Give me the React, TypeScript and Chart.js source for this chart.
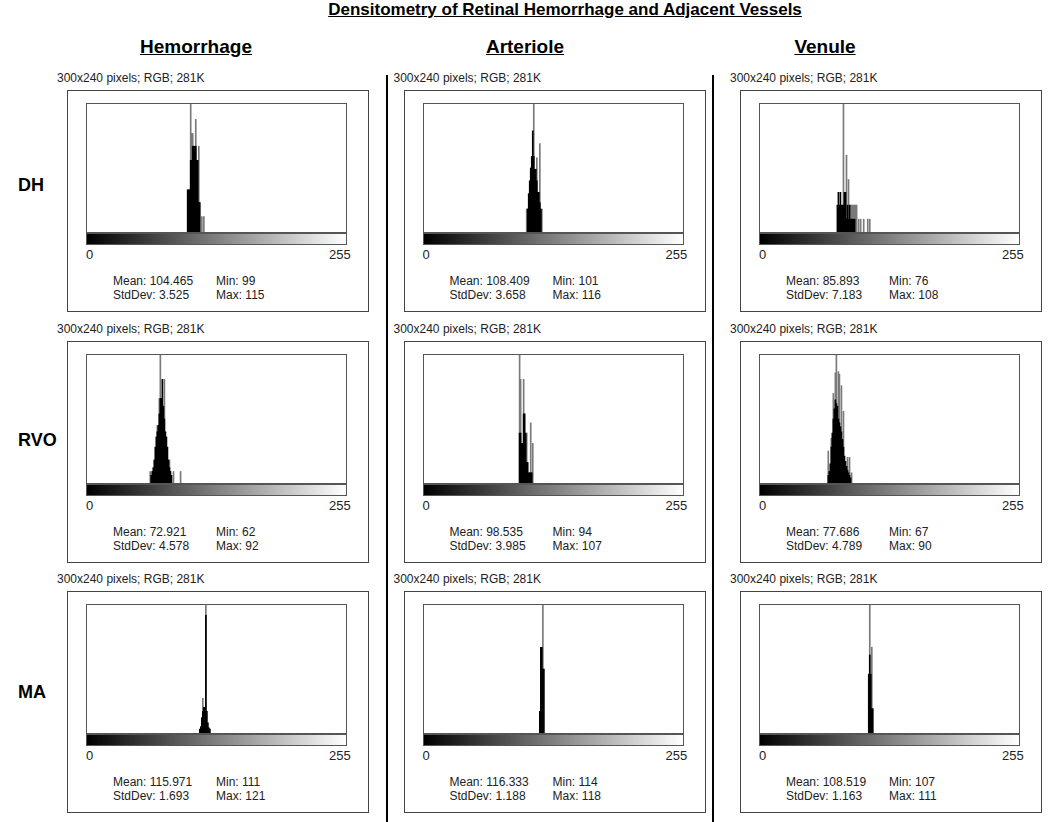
import React, { useEffect, useRef } from "react";
import { Chart, registerables } from "chart.js";

Chart.register(...registerables);

const TITLE = "Densitometry of Retinal Hemorrhage and Adjacent Vessels";
const columnNames = ["Hemorrhage", "Arteriole", "Venule"];
const rowNames = ["DH", "RVO", "MA"];
const imageInfo = "300x240 pixels; RGB; 281K";
const axisMinLabel = "0";
const axisMaxLabel = "255";

// Histogram bins (0-255), heights in % of plot height; black = solid body, gray = thin spikes
const dhHemStart = 99;
const dhHemBlack = [33, 33, 33, 56, 56, 67, 67, 67, 67, 56, 56, 23, 23, 0, 0, 0, 0];
const dhHemGray = [0, 0, 0, 100, 77, 77, 0, 0, 88, 0, 0, 67, 0, 0, 12, 0, 12];

const dhArtStart = 101;
const dhArtBlack = [0, 18, 30, 40, 50, 59, 79, 59, 49, 49, 40, 31, 31, 23, 18, 0];
const dhArtGray = [18, 0, 0, 0, 0, 0, 0, 100, 0, 0, 58, 0, 0, 69, 0, 18];

const dhVenStart = 76;
const dhVenBlack = [21, 31, 21, 31, 21, 21, 21, 31, 31, 10, 21, 10, 21, 10, 10, 10, 10, 10, 0, 0, 0, 0, 0, 0, 0, 0, 0, 0, 0, 0, 0, 0, 0];
const dhVenGray = [0, 0, 0, 0, 0, 0, 100, 0, 0, 60, 0, 41, 0, 21, 21, 21, 21, 21, 21, 21, 0, 10, 0, 10, 0, 0, 10, 0, 0, 0, 10, 0, 10];

const rvoHemStart = 62;
const rvoHemBlack = [0, 6, 9, 12, 18, 28, 36, 40, 45, 54, 66, 66, 81, 60, 50, 40, 36, 28, 18, 12, 9, 6, 0, 0, 0, 0, 0, 0, 0, 0, 0];
const rvoHemGray = [9, 0, 0, 0, 0, 0, 0, 45, 0, 66, 100, 0, 0, 0, 81, 0, 0, 0, 0, 18, 0, 0, 0, 9, 0, 0, 0, 0, 0, 0, 9];

const rvoArtStart = 94;
const rvoArtBlack = [39, 39, 31, 31, 54, 54, 39, 16, 16, 8, 8, 8, 8, 0];
const rvoArtGray = [100, 81, 0, 0, 81, 0, 0, 39, 0, 0, 0, 47, 0, 31];

const rvoVenStart = 67;
const rvoVenBlack = [6, 9, 15, 28, 39, 50, 58, 65, 62, 60, 50, 47, 44, 40, 34, 28, 21, 17, 13, 10, 8, 6, 4, 0];
const rvoVenGray = [25, 0, 0, 35, 0, 70, 0, 86, 100, 0, 87, 85, 0, 76, 0, 56, 0, 0, 0, 20, 0, 20, 0, 8];

const maHemStart = 111;
const maHemBlack = [3, 5, 12, 17, 20, 20, 92, 17, 8, 4, 3];
const maHemGray = [0, 0, 0, 27, 0, 0, 100, 0, 0, 0, 0];

const maArtStart = 114;
const maArtBlack = [17, 67, 67, 50, 50];
const maArtGray = [0, 0, 0, 100, 0];

const maVenStart = 107;
const maVenBlack = [46, 61, 46, 19, 19];
const maVenGray = [0, 100, 0, 67, 0];

const means = ["104.465", "108.409", "85.893", "72.921", "98.535", "77.686", "115.971", "116.333", "108.519"];
const stdDevs = ["3.525", "3.658", "7.183", "4.578", "3.985", "4.789", "1.693", "1.188", "1.163"];
const mins = ["99", "101", "76", "62", "94", "67", "111", "114", "107"];
const maxs = ["115", "116", "108", "92", "107", "90", "121", "118", "111"];

const panelStarts = [dhHemStart, dhArtStart, dhVenStart, rvoHemStart, rvoArtStart, rvoVenStart, maHemStart, maArtStart, maVenStart];
const panelBlack = [dhHemBlack, dhArtBlack, dhVenBlack, rvoHemBlack, rvoArtBlack, rvoVenBlack, maHemBlack, maArtBlack, maVenBlack];
const panelGray = [dhHemGray, dhArtGray, dhVenGray, rvoHemGray, rvoArtGray, rvoVenGray, maHemGray, maArtGray, maVenGray];

const PLOT_W = 259;
const PLOT_H = 128;

function Histogram({ start, black, gray }: { start: number; black: number[]; gray: number[] }) {
  const ref = useRef<HTMLCanvasElement>(null);
  useEffect(() => {
    const toPts = (arr: number[]) =>
      arr.map((v, i) => ({ x: start + i + 0.5, y: v })).filter((p) => p.y > 0);
    const chart = new Chart(ref.current as HTMLCanvasElement, {
      type: "bar",
      data: {
        datasets: [
          { data: toPts(black) as any, backgroundColor: "#000000", order: 1 },
          { data: toPts(gray) as any, backgroundColor: "#7a7a7a", order: 2 },
        ],
      },
      options: {
        animation: false,
        responsive: false,
        maintainAspectRatio: false,
        devicePixelRatio: 1,
        layout: { padding: 0 },
        plugins: { legend: { display: false }, tooltip: { enabled: false } },
        datasets: {
          bar: { grouped: false, barPercentage: 1, categoryPercentage: 1, borderWidth: 0 },
        },
        scales: {
          x: { type: "linear", min: 0, max: 256, offset: false, bounds: "data", display: false, grid: { offset: false } },
          y: { min: 0, max: 100, display: false },
        },
      } as any,
    });
    return () => chart.destroy();
  }, [start, black, gray]);
  return (
    <canvas
      ref={ref}
      width={PLOT_W}
      height={PLOT_H}
      style={{ display: "block", width: PLOT_W, height: PLOT_H }}
    />
  );
}

const smallFont = "'Liberation Sans', Arial, sans-serif";
const boldFont = "'Liberation Sans Narrow', 'Liberation Sans', Arial, sans-serif";

function Panel({ idx }: { idx: number }) {
  const r = Math.floor(idx / 3);
  const c = idx % 3;
  const x0 = 67 + 336.5 * c;
  const y0 = 90 + 250.5 * r;
  const txt: React.CSSProperties = {
    position: "absolute",
    fontFamily: smallFont,
    fontSize: 12,
    lineHeight: "14px",
    color: "#222",
    whiteSpace: "nowrap",
  };
  return (
    <>
      <div style={{ ...txt, left: x0 - 10, top: y0 - 19 }}>{imageInfo}</div>
      <div
        style={{
          position: "absolute",
          left: x0,
          top: y0,
          width: 302,
          height: 222,
          border: "1px solid #444",
          boxSizing: "border-box",
        }}
      />
      <div
        style={{
          position: "absolute",
          left: x0 + 19,
          top: y0 + 13,
          width: PLOT_W + 2,
          height: PLOT_H + 2,
          border: "1px solid #555",
          boxSizing: "border-box",
          background: "#fff",
        }}
      >
        <Histogram start={panelStarts[idx]} black={panelBlack[idx]} gray={panelGray[idx]} />
      </div>
      <div
        style={{
          position: "absolute",
          left: x0 + 19,
          top: y0 + 143,
          width: PLOT_W + 2,
          height: 12,
          border: "1px solid #555",
          boxSizing: "border-box",
          background: "linear-gradient(to right, #000000, #ffffff)",
        }}
      />
      <div style={{ ...txt, left: x0 + 19, top: y0 + 158, fontSize: 13 }}>{axisMinLabel}</div>
      <div style={{ ...txt, left: x0 + 262, top: y0 + 158, fontSize: 13 }}>{axisMaxLabel}</div>
      <div style={{ ...txt, left: x0 + 46, top: y0 + 184 }}>Mean: {means[idx]}</div>
      <div style={{ ...txt, left: x0 + 46, top: y0 + 198 }}>StdDev: {stdDevs[idx]}</div>
      <div style={{ ...txt, left: x0 + 149, top: y0 + 184 }}>Min: {mins[idx]}</div>
      <div style={{ ...txt, left: x0 + 149, top: y0 + 198 }}>Max: {maxs[idx]}</div>
    </>
  );
}

export default function App() {
  const colCenters = [196, 525, 825];
  const rowCenters = [185, 440, 692];
  return (
    <div
      style={{
        position: "absolute",
        left: 0,
        top: 0,
        width: 1050,
        height: 822,
        background: "#fff",
        overflow: "hidden",
      }}
    >
      <div
        style={{
          position: "absolute",
          left: 565,
          top: 0,
          transform: "translateX(-50%)",
          fontFamily: boldFont,
          fontWeight: "bold",
          fontSize: 17,
          lineHeight: "20px",
          textDecoration: "underline",
          whiteSpace: "nowrap",
          color: "#000",
        }}
      >
        {TITLE}
      </div>
      {columnNames.map((n, i) => (
        <div
          key={n}
          style={{
            position: "absolute",
            left: colCenters[i],
            top: 36,
            transform: "translateX(-50%)",
            fontFamily: boldFont,
            fontWeight: "bold",
            fontSize: 19,
            lineHeight: "22px",
            textDecoration: "underline",
            whiteSpace: "nowrap",
            color: "#000",
          }}
        >
          {n}
        </div>
      ))}
      {rowNames.map((n, i) => (
        <div
          key={n}
          style={{
            position: "absolute",
            left: 18,
            top: rowCenters[i] - 11,
            fontFamily: boldFont,
            fontWeight: "bold",
            fontSize: 18,
            lineHeight: "22px",
            whiteSpace: "nowrap",
            color: "#000",
          }}
        >
          {n}
        </div>
      ))}
      <div style={{ position: "absolute", left: 386, top: 75, width: 2, height: 747, background: "#000" }} />
      <div style={{ position: "absolute", left: 712, top: 75, width: 2, height: 747, background: "#000" }} />
      {[0, 1, 2, 3, 4, 5, 6, 7, 8].map((i) => (
        <Panel key={i} idx={i} />
      ))}
    </div>
  );
}
